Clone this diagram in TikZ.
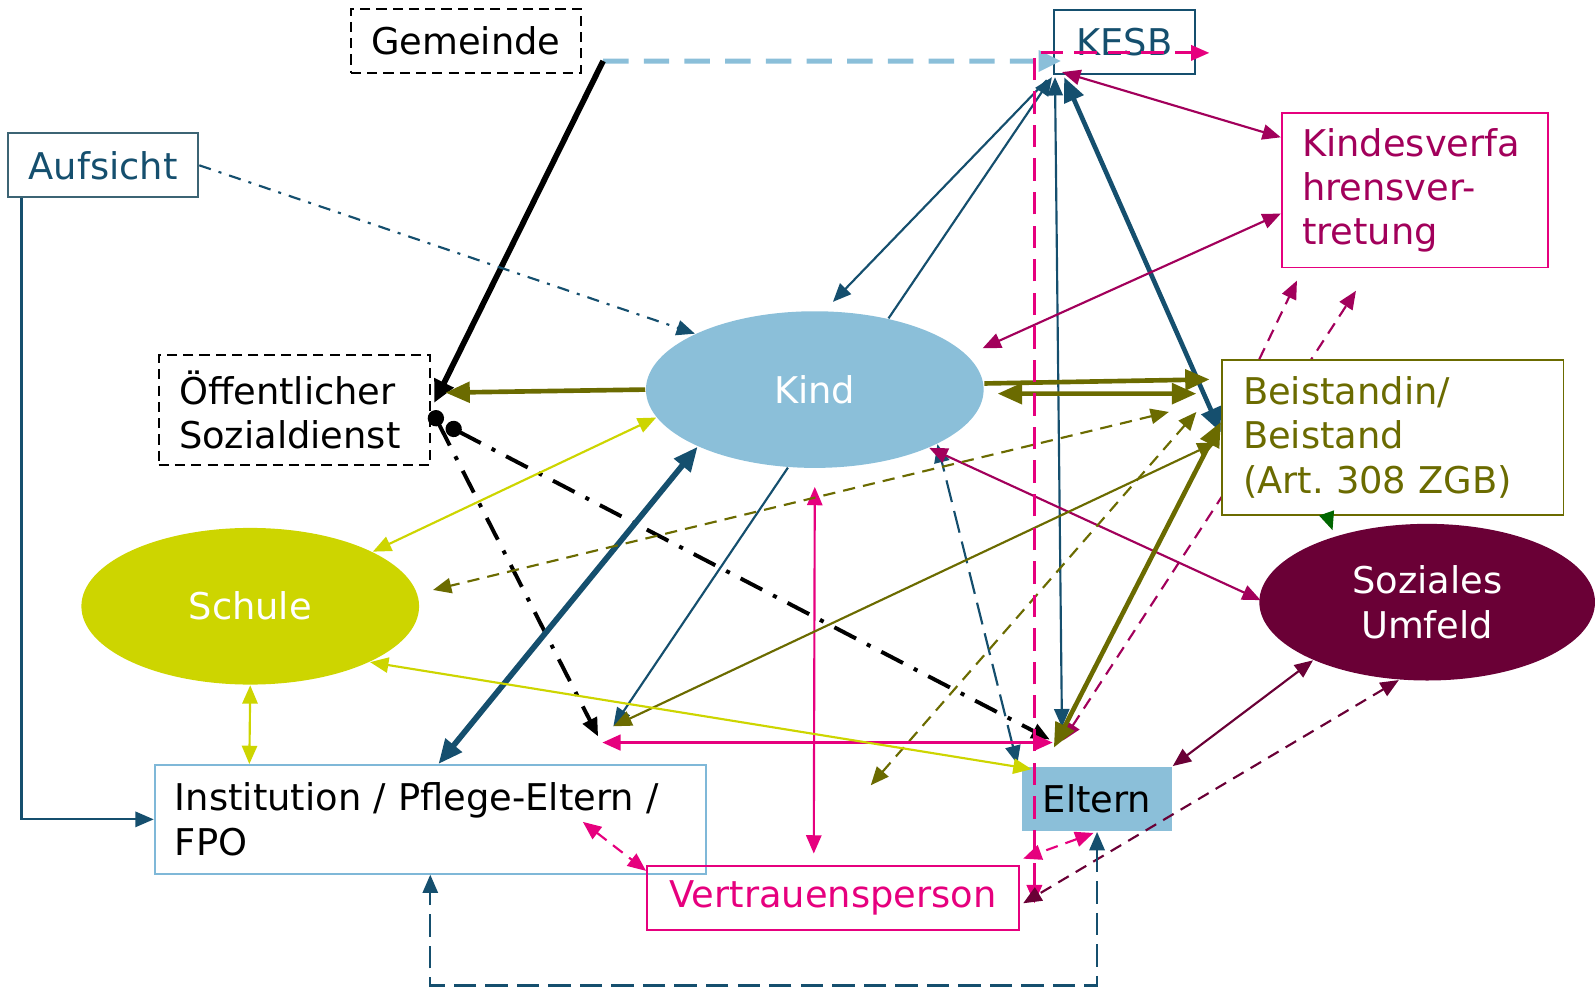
\documentclass[tikz,border=0pt]{standalone}
\usepackage{fontspec}
\setmainfont{DejaVu Sans}
\usepackage{tikz}
\usetikzlibrary{arrows.meta, shapes.geometric, positioning}
\definecolor{kblue}{HTML}{154F6E}
\definecolor{klight}{HTML}{8BBFD9}
\definecolor{kframe}{HTML}{7FB8D8}
\definecolor{kgrey}{HTML}{3C6474}
\definecolor{kolive}{HTML}{6B6B00}
\definecolor{kyellow}{HTML}{CDD500}
\definecolor{kpink}{HTML}{E6007E}
\definecolor{kcrimson}{HTML}{A2005B}
\definecolor{kmaroon}{HTML}{6A0036}
\definecolor{kgreen}{HTML}{006600}
\frenchspacing

\begin{document}
\begin{tikzpicture}[x=0.1mm, y=-0.1mm,
    >={Triangle[length=1.8mm,width=1.5mm]},
    every node/.style={font=\fontsize{10.3}{12.4}\selectfont},
    box/.style={draw, line width=0.5pt, inner sep=0pt, minimum height=6.3mm},
    blob/.style={ellipse, inner sep=0pt, minimum width=33.2mm, minimum height=15.4mm, text=white},
    link/.style={line width=0.6pt},
    strong/.style={line width=1.3pt, >={Triangle[length=2.4mm,width=2mm]}},
    shortdash/.style={dash pattern=on 1.2mm off 0.8mm},
    longdash/.style={dash pattern=on 2.2mm off 0.9mm},
    dashdot/.style={dash pattern=on 2.4mm off 1.2mm on 0.4mm off 1.2mm}]
  \useasboundingbox (0,0) rectangle (1568,976);

  % loose ends where several arrows meet
  \coordinate (lhub) at (603,714);
  \coordinate (lblk) at (588,724);
  \coordinate (lbar) at (592,730);
  \coordinate (rbar) at (1035,730);
  \coordinate (rblk) at (1032,727);
  \coordinate (rblue) at (1044,715);
  \coordinate (rolive) at (1036,735);
  \coordinate (rcrim) at (1045,728);
  \coordinate (odash) at (856,772);

  \node[box, dashed, dash pattern=on 1mm off 0.6mm, minimum width=22.6mm] (gem) at (458,40) {Gemeinde};
  \node[box, draw=kblue, text=kblue, minimum width=13.9mm] (kesb) at (1105.5,41.5) {KESB};
  \node[box, draw=kgrey, text=kblue, minimum width=18.7mm] (aufsicht) at (101.5,162.5) {Aufsicht};
  \node[box, draw=kpink, text=kcrimson, minimum width=26.2mm, minimum height=15.2mm,
        text width=22.2mm, align=left] (kvv) at (1391,187) {Kindesverfa\\hrensver-\\tretung};
  \node[box, dashed, dash pattern=on 1mm off 0.6mm, minimum width=26.7mm, minimum height=10.8mm,
        text width=22.7mm, align=left] (oeff) at (289.5,403) {Öffentlicher\\Sozialdienst};
  \node[blob, fill=klight] (kind) at (801,383) {Kind};
  \node[blob, fill=kyellow] (schule) at (246,596) {Schule};
  \node[blob, fill=kmaroon, minimum width=33mm, align=center] (umfeld) at (1403,592) {Soziales\\Umfeld};
  \node[box, draw=kframe, minimum width=54.2mm, minimum height=10.7mm,
        text width=50.2mm, align=left] (inst) at (423,805.5) {Institution / Pflege-Eltern /\\FPO};
  \node[box, draw=none, fill=klight, minimum width=14.7mm] (eltern) at (1078.5,785.5) {Eltern};
  \node[box, draw=kpink, text=kpink, minimum width=36.6mm] (vertr) at (819,882.5) {Vertrauensperson};

  % runs behind the Beistand box
  \draw[kcrimson, link, shortdash, <->] (rcrim) -- ([shift={(-5.8mm,-2.2mm)}]kvv.south);
  \node[box, draw=kolive, text=kolive, fill=white, minimum width=33.6mm, minimum height=15.2mm,
        text width=29.4mm, align=left] (beist) at (1369,430) {Beistandin/\\Beistand\\(Art. 308 ZGB)};

  % Gemeinde, Aufsicht, Sozialdienst
  \draw[klight, line width=1.4pt, dash pattern=on 2.5mm off 1.5mm, ->, >={Triangle[length=2.2mm,width=2mm]}] ([shift={(2.1mm,-2mm)}]gem.east) -- ([shift={(0.8mm,-1.85mm)}]kesb.west);
  \draw[black, line width=1.6pt, ->, >={Triangle[length=2.2mm,width=2mm]}] ([shift={(2.1mm,-2mm)}]gem.east) -- ([shift={(0.3mm,0.7mm)}]oeff.east);
  \draw[black, line width=1.1pt, dashdot, {Circle[length=1.6mm]}->] ([shift={(0.1mm,-0.1mm)}]oeff.east) -- (lblk);
  \draw[black, line width=1.1pt, dashdot, {Circle[length=1.6mm]}->] ([shift={(1.5mm,-1.5mm)}]oeff.east) -- (rblk);
  \draw[kblue, link, dash pattern=on 1.2mm off 0.8mm on 0.3mm off 0.8mm, ->] (aufsicht.east) -- (kind.155);
  \draw[kblue, link, ->] ([xshift=1.4mm]aufsicht.south west) |- (inst.west);

  % KESB
  \draw[kblue, link, ->] ([shift={(-0.6mm,-0.5mm)}]kesb.south west) -- ([yshift=0.9mm]kind.77);
  \draw[kblue, link, ->] (kind.44) -- ([shift={(-0.1mm,-0.2mm)}]kesb.south west);
  \draw[kblue, link, <->] ([shift={(0.2mm,-0.2mm)}]kesb.south west) -- (rblue);
  \draw[kblue, strong, <->] ([shift={(1.1mm,-0.2mm)}]kesb.south west) -- ([yshift=0.5mm]beist.west);
  \draw[kcrimson, link, <->] ([shift={(0.9mm,0.3mm)}]kesb.south west) -- ([yshift=5.2mm]kvv.west);
  \draw[kcrimson, link, <->] ([yshift=-2.3mm]kvv.west) -- ([shift={(1.8mm,0.4mm)}]kind.14);

  % Kind
  \draw[kolive, strong, ->] (kind.west) -- ([shift={(1.4mm,1.7mm)}]oeff.east);
  \draw[kolive, strong, ->] ([yshift=0.6mm]kind.east) -- ([shift={(-1.1mm,5.7mm)}]beist.west);
  \draw[kolive, strong, <->] ([shift={(1.3mm,-0.4mm)}]kind.east) -- ([shift={(-2.4mm,4.3mm)}]beist.west);
  \draw[kyellow, link, <->] (kind.190) -- (schule.24);
  \draw[kblue, line width=1.6pt, <->, >={Triangle[length=2.4mm,width=2mm]}] (kind.206) -- ([xshift=0.8mm]inst.north);
  \draw[kpink, link, <->] ([yshift=-1.8mm]kind.south) -- ([shift={(-1.9mm,1.1mm)}]vertr.north);
  \draw[kblue, link, ->] (kind.251) -- (lhub);
  \draw[kblue, link, longdash, <->] ([shift={(-0.4mm,0.2mm)}]eltern.north west) -- (kind.-24);
  \draw[kcrimson, link, <->] (kind.-27) -- ([shift={(0.2mm,0.2mm)}]umfeld.west);

  % Beistand
  \draw[kolive, link, shortdash, <->] ([shift={(-5.1mm,2.5mm)}]beist.west) -- ([shift={(1.3mm,1.6mm)}]schule.east);
  \draw[kolive, link, shortdash, <->] ([shift={(-2.4mm,2.5mm)}]beist.west) -- (odash);
  \draw[kolive, link, <->] ([shift={(-0.5mm,-0.5mm)}]beist.west) -- (lhub);
  \draw[kolive, strong, <->] ([yshift=1.5mm]beist.west) -- (rolive);
  \draw[kcrimson, link, shortdash, ->] ([xshift=-13.1mm]beist.north) -- ([shift={(-11.6mm,-1.2mm)}]kvv.south);
  \draw[kgreen, link, ->] ([xshift=-6.4mm]beist.south) -- ([shift={(-9.3mm,-0.7mm)}]umfeld.north);

  % Vertrauensperson, Eltern, Umfeld, Schule
  \draw[kpink, line width=1pt, <->] (lbar) -- (rbar);
  \draw[kpink, line width=0.8pt, dash pattern=on 2.2mm off 1.1mm, <->] ([shift={(1.4mm,-0.55mm)}]vertr.east) |- ([shift={(1.3mm,-1.05mm)}]kesb.east);
  \draw[kpink, link, shortdash, <->] ([shift={(-0.35mm,-0.1mm)}]eltern.south) -- ([shift={(0.3mm,0.6mm)}]vertr.north east);
  \draw[kpink, link, shortdash, <->] ([shift={(15mm,-0.25mm)}]inst.center) -- ([yshift=-0.6mm]vertr.north west);
  \draw[kmaroon, link, <->] (umfeld.207) -- (eltern.north east);
  \draw[kmaroon, link, shortdash, <->] (umfeld.250) -- ([shift={(0.3mm,-0.55mm)}]vertr.east);
  \draw[kyellow, link, <->] (schule.south) -- ([xshift=9.4mm]inst.north west);
  \draw[kyellow, link, <->] (schule.-25) -- ([shift={(1mm,-0.3mm)}]eltern.north west);
  \draw[kblue, link, longdash, <->] (eltern.south) -- ([yshift=-15.1mm]eltern.south) -| (inst.south);
\end{tikzpicture}
\end{document}
